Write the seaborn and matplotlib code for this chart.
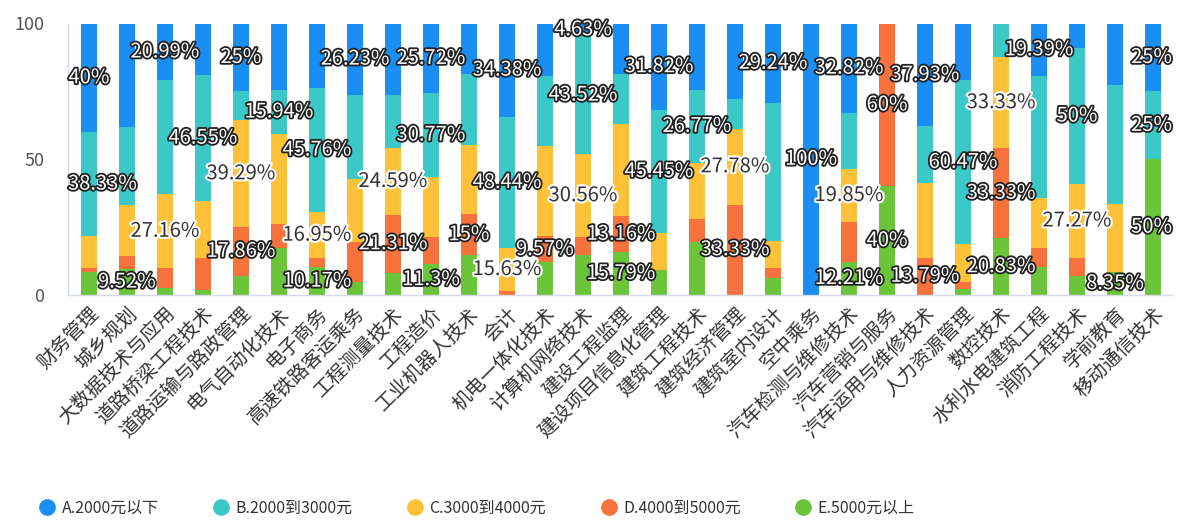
import numpy as np
import pandas as pd
import matplotlib
matplotlib.use("Agg")
import matplotlib.pyplot as plt
import matplotlib.patheffects as pe
from matplotlib.lines import Line2D
import seaborn as sns

categories = ["财务管理", "城乡规划", "大数据技术与应用", "道路桥梁工程技术", "道路运输与路政管理",
              "电气自动化技术", "电子商务", "高速铁路客运乘务", "工程测量技术", "工程造价",
              "工业机器人技术", "会计", "机电一体化技术", "计算机网络技术", "建设工程监理",
              "建设项目信息化管理", "建筑工程技术", "建筑经济管理", "建筑室内设计", "空中乘务",
              "汽车检测与维修技术", "汽车营销与服务", "汽车运用与维修技术", "人力资源管理", "数控技术",
              "水利水电建筑工程", "消防工程技术", "学前教育", "移动通信技术"]

series_names = ["A.2000元以下", "B.2000到3000元", "C.3000到4000元", "D.4000到5000元", "E.5000元以上"]

vals_A = [40, 38.10, 20.99, 18.97, 25, 24.64, 23.73, 26.23, 26.23, 25.72,
          18.5, 34.38, 19.2, 4.63, 18.42, 31.82, 24.5, 27.78, 29.24, 100,
          32.82, 0, 37.93, 20.93, 0, 19.39, 9.09, 22.7, 25]
vals_B = [38.33, 28.57, 41.98, 46.55, 10.71, 15.94, 45.76, 31.15, 19.67, 30.77,
          26.2, 48.44, 25.8, 43.52, 18.42, 45.45, 26.77, 11.11, 51.0, 0,
          20.61, 0, 20.69, 60.47, 12.5, 44.90, 50, 43.6, 25]
vals_C = [11.67, 19.05, 27.16, 20.69, 39.29, 33.33, 16.95, 22.95, 24.59, 22.0,
          25.6, 15.63, 33.43, 30.56, 34.21, 13.64, 20.6, 27.78, 9.9, 0,
          19.85, 0, 27.59, 13.95, 33.33, 18.37, 27.27, 25.35, 0]
vals_D = [1.67, 4.76, 7.41, 12.07, 17.86, 8.70, 3.39, 14.75, 21.31, 10.21,
          15, 1.56, 9.57, 6.48, 13.16, 0, 8.5, 33.33, 3.7, 0,
          14.50, 60, 13.79, 2.33, 33.33, 7.14, 6.82, 0, 0]
vals_E = [8.33, 9.52, 2.47, 1.72, 7.14, 17.39, 10.17, 4.92, 8.20, 11.3,
          14.7, 0, 12.0, 14.81, 15.79, 9.09, 19.63, 0, 6.16, 0,
          12.21, 40, 0, 2.33, 20.83, 10.20, 6.82, 8.35, 50]

# indices of bars whose segment carries a visible value label
shown_A = [0, 2, 4, 7, 9, 11, 13, 15, 18, 19, 20, 22, 25, 28]
shown_B = [0, 3, 5, 6, 9, 11, 13, 15, 16, 23, 26, 28]
shown_C = [2, 4, 6, 8, 11, 13, 17, 20, 24, 26]
shown_D = [4, 8, 10, 12, 14, 17, 21, 22, 24]
shown_E = [1, 6, 9, 14, 20, 21, 24, 27, 28]

colors = ["#1A8EF2", "#3CC8C6", "#FDC23A", "#F7723C", "#6BC43A"]

sns.set_theme(style="white")
plt.rcParams["font.family"] = ["Noto Sans CJK SC", "DejaVu Sans"]

fig = plt.figure(figsize=(11.8, 5.25), dpi=100)
ax = fig.add_axes([68 / 1180, 1 - 295 / 525, (1172 - 68) / 1180, (295 - 23.5) / 525])

series = [vals_A, vals_B, vals_C, vals_D, vals_E]
shown = [shown_A, shown_B, shown_C, shown_D, shown_E]
arr = np.array(series, dtype=float)  # 5 x n, A..E
# cumulative from the bottom (E) upward
bottoms = np.zeros_like(arr)
for i in range(3, -1, -1):
    bottoms[i] = bottoms[i + 1] + arr[i + 1]
tops = bottoms + arr

# draw from top series down so each lower stack covers the one above
for i in range(5):
    df = pd.DataFrame({"cat": categories, "val": tops[i]})
    sns.barplot(data=df, x="cat", y="val", order=categories, color=colors[i],
                saturation=1, width=0.4, linewidth=0, ax=ax)

ax.set_xlim(-0.55, 28.5)
ax.set_ylim(0, 100)
ax.set_xlabel("")
ax.set_ylabel("")
ax.set_yticks([0, 50, 100])
ax.tick_params(axis="y", length=0, pad=17, labelsize=13, labelcolor="#555555")
ax.set_xticks(range(len(categories)))
ax.set_xticklabels(categories, rotation=45, ha="right", rotation_mode="anchor",
                   fontsize=14, color="#333333")
ax.tick_params(axis="x", length=0, pad=6)
for s in ["top", "right"]:
    ax.spines[s].set_visible(False)
for s in ["left", "bottom"]:
    ax.spines[s].set_color("#d3dbe8")
    ax.spines[s].set_linewidth(1)
ax.grid(False)

texts = []
for i in range(5):
    for j in shown[i]:
        v = arr[i, j]
        y = bottoms[i, j] + v / 2
        s = f"{v:.2f}".rstrip("0").rstrip(".") + "%"
        if i == 2:
            t = ax.text(j, y, s, ha="center", va="center", fontsize=14.5, color="#333333",
                        path_effects=[pe.withStroke(linewidth=3, foreground="white")], zorder=5)
        else:
            t = ax.text(j, y, s, ha="center", va="center", fontsize=14.5, color="white",
                        path_effects=[pe.withStroke(linewidth=2.6, foreground="#222222")], zorder=5)
        texts.append(t)

# keep labels inside the plotting area horizontally
fig.canvas.draw()
renderer = fig.canvas.get_renderer()
axbb = ax.get_window_extent(renderer)
x0, x1 = ax.get_xlim()
dpp = (x1 - x0) / axbb.width
for t in texts:
    bb = t.get_window_extent(renderer)
    dx = 0
    if bb.x0 < axbb.x0:
        dx = axbb.x0 - bb.x0
    elif bb.x1 > axbb.x1:
        dx = axbb.x1 - bb.x1
    if dx:
        xx, yy = t.get_position()
        t.set_position((xx + dx * dpp, yy))

handles = [Line2D([0], [0], marker="o", linestyle="", markersize=11,
                  markerfacecolor=c, markeredgecolor=c) for c in colors]
fig.legend(handles, series_names, loc="center", bbox_to_anchor=(477 / 1180, 1 - 508 / 525),
           ncol=5, frameon=False, fontsize=11.5, handletextpad=0.4, columnspacing=3.4,
           handlelength=1.0, labelcolor="#333333")

fig.savefig("out.png", dpi=100)
